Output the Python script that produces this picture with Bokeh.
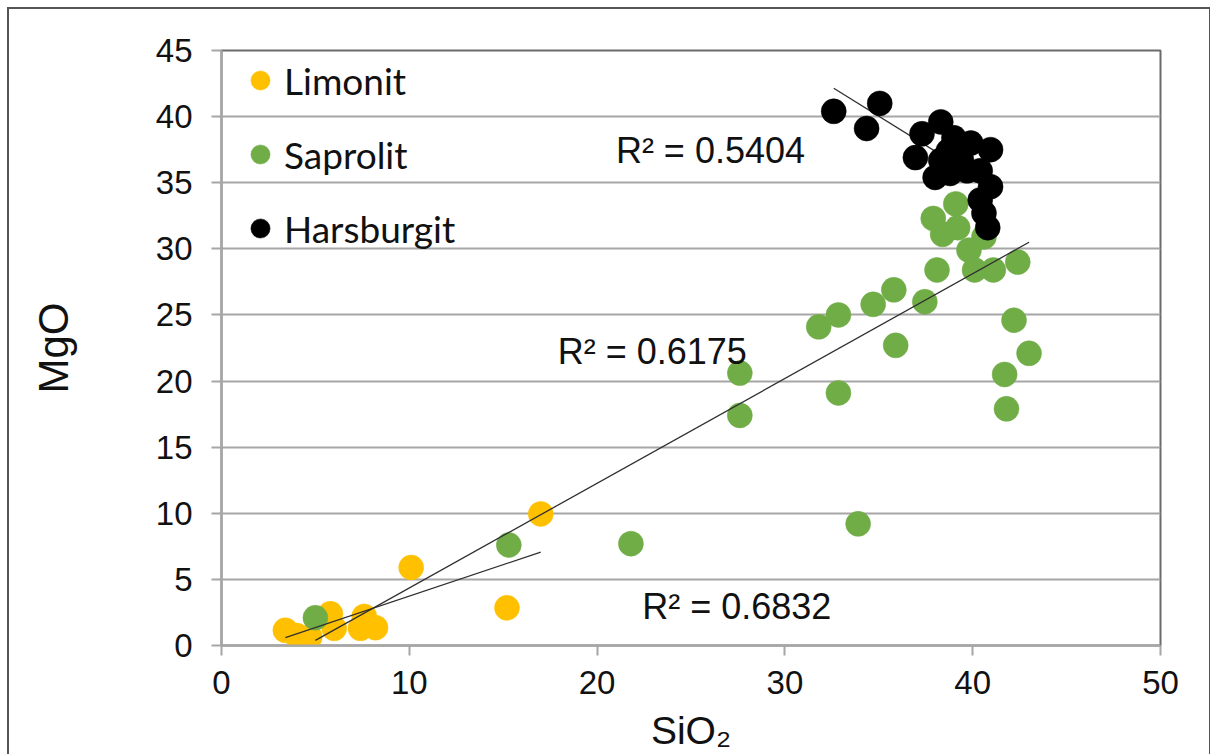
from bokeh.plotting import figure
from bokeh.models import Legend, LegendItem, FixedTicker, Range1d
from bokeh.core.properties import value
from bokeh.embed import file_html
from bokeh.resources import INLINE

# ---- data ----
limonit_x = [3.4, 4.0, 4.7, 5.8, 6.0, 7.6, 7.4, 8.2, 10.1, 15.2, 17.0]
limonit_y = [1.15, 0.75, 0.65, 2.4, 1.3, 2.2, 1.3, 1.35, 5.9, 2.85, 9.95]

saprolit_x = [5.0, 15.3, 21.8, 27.6, 27.6, 31.8, 32.85, 32.85, 33.9, 34.7, 35.8, 35.9,
              37.45, 38.1, 37.9, 38.4, 39.1, 39.2, 39.8, 40.1, 40.6, 41.1, 42.4, 42.2,
              43.0, 41.7, 41.8]
saprolit_y = [2.1, 7.6, 7.7, 20.6, 17.4, 24.1, 25.0, 19.1, 9.2, 25.8, 26.9, 22.7,
              26.0, 28.4, 32.3, 31.1, 33.4, 31.6, 29.9, 28.4, 30.9, 28.4, 29.0, 24.6,
              22.1, 20.5, 17.9]

harsburgit_x = [32.6, 35.05, 34.35, 37.3, 38.3, 36.95, 38.0, 40.95, 39.9, 39.0, 38.7,
                39.4, 39.7, 40.4, 40.95, 40.4, 40.6, 40.8, 38.8, 38.3]
harsburgit_y = [40.4, 41.0, 39.1, 38.7, 39.6, 36.9, 35.4, 37.5, 38.0, 38.4, 37.4,
                36.7, 35.9, 35.9, 34.7, 33.7, 32.7, 31.6, 35.7, 36.7]

series_names = ["Limonit", "Saprolit", "Harsburgit"]
series_colors = ["#FFC000", "#70AD47", "#000000"]

# linear trendlines (y = intercept + slope * x) and their R² labels
trend_slope = [0.4747, 0.7925, -0.882]
trend_intercept = [-1.01, -3.58, 70.9]
r2_text = ["R² = 0.6832", "R² = 0.6175", "R² = 0.5404"]
r2_x = [22.4, 17.9, 21.0]
r2_y = [2.95, 22.2, 37.4]

x_ticks = [0, 10, 20, 30, 40, 50]
y_ticks = [0, 5, 10, 15, 20, 25, 30, 35, 40, 45]

FONT = "Liberation Sans"

p = figure(width=1200, height=747, output_backend="svg", toolbar_location=None,
           x_range=Range1d(0, 50), y_range=Range1d(0, 45),
           min_border_left=212, min_border_right=49, min_border_top=41,
           min_border_bottom=111)
p.styles = {"margin-left": "9px", "margin-top": "9px",
            "box-shadow": "-2px -2px 0 0 #555555, 4px -2px 0 0 #555555",
            "clip-path": "inset(-3px -6px 0 -3px)"}

p.outline_line_color = "#6b6b6b"
p.outline_line_width = 2

p.xgrid.visible = False
p.ygrid.grid_line_color = "#a6a6a6"
p.ygrid.grid_line_width = 2

for ax in (p.xaxis[0], p.yaxis[0]):
    ax.axis_line_color = "#a6a6a6"
    ax.axis_line_width = 2
    ax.major_tick_line_color = "#a6a6a6"
    ax.major_tick_line_width = 2
    ax.major_tick_out = 10
    ax.major_tick_in = 0
    ax.minor_tick_line_color = None
    ax.major_label_text_font = FONT
    ax.major_label_text_font_size = "33px"
    ax.major_label_text_color = "#111111"
    ax.axis_label_text_font = FONT
    ax.axis_label_text_font_style = "normal"
    ax.axis_label_text_color = "#111111"

p.xaxis.axis_label_text_font_size = "39px"
p.yaxis.axis_label_text_font_size = "42px"
p.xaxis.ticker = FixedTicker(ticks=x_ticks)
p.yaxis.ticker = FixedTicker(ticks=y_ticks)
p.xaxis.major_label_standoff = 15
p.yaxis.major_label_standoff = 19
p.xaxis.axis_label = "SiO₂"
p.yaxis.axis_label = "MgO"
p.xaxis.axis_label_standoff = 12
p.yaxis.axis_label_standoff = 76

xs = [limonit_x, saprolit_x, harsburgit_x]
ys = [limonit_y, saprolit_y, harsburgit_y]
renderers = [None, None, None]


def add_scatter(i):
    c = series_colors[i]
    renderers[i] = p.scatter(xs[i], ys[i], size=25, fill_color=c, line_color=c, line_width=0.5)


def add_trend(i):
    sx = xs[i]
    b, a = trend_slope[i], trend_intercept[i]
    x0, x1 = min(sx), max(sx)
    p.line([x0, x1], [a + b * x0, a + b * x1], line_color="#303030", line_width=1.3)


add_scatter(0)
add_scatter(1)
for i in range(3):
    add_trend(i)
add_scatter(2)

p.text(x=r2_x, y=r2_y, text=r2_text, text_font=value(FONT),
       text_font_size=value("36px"), text_baseline="middle", text_align="left",
       text_color="#111111")

legend = Legend(items=[LegendItem(label=n, renderers=[r]) for n, r in zip(series_names, renderers)],
                location=(15, 392), orientation="vertical")
legend.glyph_width = 48
legend.glyph_height = 50
legend.spacing = 24
legend.padding = 0
legend.margin = 0
legend.label_standoff = 0
legend.label_text_font = "Lato"
legend.label_text_font_size = "37px"
legend.label_text_color = "#111111"
legend.background_fill_alpha = 0
legend.border_line_color = None
p.add_layout(legend)

open("out.html", "w").write(file_html(p, INLINE))
